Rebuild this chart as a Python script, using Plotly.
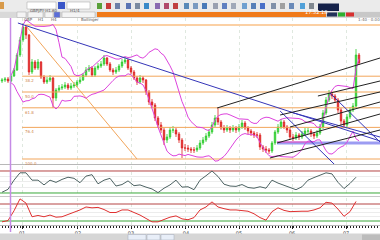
import plotly.graph_objects as go
import pandas as pd

# ---------------- data ----------------
closes = [85,86,84,89,95,110,125,138,130,93,
          103,97,103,88,83,85,87,67,75,77,
          78,80,77,79,80,83,85,90,95,97,
          90,97,99,101,107,101,95,93,95,99,
          103,105,97,93,87,83,87,85,73,63,
          60,47,40,35,25,28,35,35,31,25,
          17,17,16,15,15,17,22,25,29,33,
          40,47,43,37,35,37,35,37,35,38,
          42,37,34,32,30,30,18,16,15,14,
          22,33,38,43,38,35,28,27,30,28,
          31,34,34,31,29,32,38,52,65,71,
          69,65,55,44,40,48,55,59,110,102]
highs = [87,88,88,91,97,112,128,142,140,131,
         106,105,106,104,90,88,90,88,77,80,
         81,83,82,82,83,85,88,92,98,100,
         99,99,102,104,110,108,103,97,98,101,
         106,108,106,99,95,89,90,89,86,75,
         66,62,49,43,37,31,38,39,37,33,
         27,21,20,18,18,20,25,28,32,36,
         43,50,57,45,40,40,39,40,39,41,
         45,44,39,36,34,33,32,20,19,17,
         24,35,41,46,45,40,37,31,33,32,
         34,37,37,36,33,35,41,55,68,75,
         73,71,67,57,46,51,58,62,116,112]
lows = [82,83,82,83,88,94,108,123,126,90,
        91,95,95,86,81,81,83,57,64,73,
        75,76,75,75,77,78,81,84,88,93,
        88,88,95,97,99,99,93,90,91,93,
        97,101,95,91,85,80,81,82,70,60,
        57,44,37,32,20,22,26,32,28,22,
        7,14,13,12,12,13,15,20,23,27,
        31,38,40,35,32,33,32,33,32,33,
        36,35,31,29,27,27,15,13,12,11,
        12,20,31,36,36,32,25,24,25,25,
        26,29,31,28,26,27,30,36,50,63,
        66,62,52,40,37,38,46,53,57,100]
first_open = 84

# oscillators, sampled every second bar
osc1 = [22,30,55,75,75,55,55,42,55,49,
        57,63,60,48,66,70,45,55,60,39,
        43,53,40,42,36,31,21,33,42,55,
        36,37,29,55,67,80,65,44,39,38,
        43,35,33,37,33,55,47,41,35,29,
        37,55,62,69,75,72,49,32,46,63]
osc2 = [28,31,54,82,72,40,43,40,44,39,
        40,45,50,56,63,61,62,57,50,50,
        56,56,50,44,36,28,28,34,39,42,
        35,33,38,56,63,75,63,59,56,56,
        54,53,47,38,32,52,61,55,52,53,
        53,53,56,61,74,72,58,41,52,76]
osc1_levels = [80, 20]
osc2_levels = [70, 30]

day_ticks = [6.7, 25.3, 43, 61.3, 79, 96.7, 114.7]
day_labels = ["01", "02", "03", "04", "05", "06", "07"]

fib_high = 140
fib_low = 6
fib_start = 6.7
fib_ratios = [0, 38.2, 50, 61.8, 76.4, 100]

blue_lines = [((5.3, 142), (126, 24)),
              ((92.7, 54), (111.7, -2)),
              ((96, 53), (126, 28)),
              ((109.3, 72), (126, 23))]
black_lines = [((71.7, 57), (126, 107)),
               ((105.3, 69), (126, 84)),
               ((92.7, 50), (126, 73)),
               ((96, 38), (126, 63)),
               ((91.7, 22), (126, 51)),
               ((89.3, 7), (126, 35))]
orange_diag = ((8.3, 138), (45, 6))
support_line = ((91.7, 22), (126, 22))
pink_line = ((91.7, 23), (103.7, 23))

X_MAX = 126
X_MIN = -0.667

# ---------------- helpers ----------------
W, H = 380, 240
def px(x):
    return x / W
def py(y):
    return 1 - y / H

idx = list(range(len(closes)))
opens = [first_open] + closes[:-1]
osc_x = list(range(0, len(closes), 2))[:len(osc1)]

s = pd.Series(closes, dtype=float)
mid = s.rolling(12, min_periods=4).mean()
sd = s.rolling(12, min_periods=4).std(ddof=0)
upper = mid + 2 * sd
lower = mid - 2 * sd

fig = go.Figure()

# fib levels
for r in fib_ratios:
    lvl = fib_high - r / 100 * (fib_high - fib_low)
    if r == 0:
        fig.add_trace(go.Scatter(x=[fib_start + 1, X_MAX], y=[lvl, lvl], mode="lines",
                                 line=dict(color="#fbd0a4", width=2.2), xaxis="x", yaxis="y"))
    else:
        fig.add_trace(go.Scatter(x=[fib_start, X_MAX], y=[lvl, lvl], mode="lines",
                                 line=dict(color="#f2a55a", width=1), xaxis="x", yaxis="y"))
        fig.add_annotation(x=fib_start + 0.3, y=lvl, xref="x", yref="y", text=f"{r:.1f}",
                           showarrow=False, xanchor="left", yanchor="top",
                           font=dict(size=4, color="#d08850", family="DejaVu Sans"))

# orange diagonal
fig.add_trace(go.Scatter(x=[orange_diag[0][0], orange_diag[1][0]],
                         y=[orange_diag[0][1], orange_diag[1][1]], mode="lines",
                         line=dict(color="#f2a55a", width=1), xaxis="x", yaxis="y"))

# support / pink lines
fig.add_trace(go.Scatter(x=[support_line[0][0], support_line[1][0]],
                         y=[support_line[0][1], support_line[1][1]], mode="lines",
                         line=dict(color="#9c9cf2", width=3), xaxis="x", yaxis="y"))
fig.add_trace(go.Scatter(x=[pink_line[0][0], pink_line[1][0]],
                         y=[pink_line[0][1], pink_line[1][1]], mode="lines",
                         line=dict(color="#ee44bb", width=1), xaxis="x", yaxis="y"))

# bollinger
fig.add_trace(go.Scatter(x=idx, y=upper, mode="lines", line=dict(color="#dd44dd", width=1),
                         xaxis="x", yaxis="y"))
fig.add_trace(go.Scatter(x=idx, y=lower, mode="lines", line=dict(color="#dd44dd", width=1),
                         xaxis="x", yaxis="y"))

# candles
fig.add_trace(go.Candlestick(x=idx, open=opens, high=highs, low=lows, close=closes,
                             increasing=dict(line=dict(color="#2ecc2e", width=0.8), fillcolor="#3ad43a"),
                             decreasing=dict(line=dict(color="#dd2222", width=0.8), fillcolor="#e02a2a"),
                             whiskerwidth=0, xaxis="x", yaxis="y"))

# trend lines
for (a, b) in blue_lines:
    fig.add_trace(go.Scatter(x=[a[0], b[0]], y=[a[1], b[1]], mode="lines",
                             line=dict(color="#3535b8", width=1), xaxis="x", yaxis="y"))
for (a, b) in black_lines:
    fig.add_trace(go.Scatter(x=[a[0], b[0]], y=[a[1], b[1]], mode="lines",
                             line=dict(color="#222222", width=1), xaxis="x", yaxis="y"))

# oscillator 1
fig.add_trace(go.Scatter(x=[X_MIN, X_MAX], y=[osc1_levels[0]] * 2, mode="lines",
                         line=dict(color="#b54545", width=1), xaxis="x2", yaxis="y2"))
fig.add_trace(go.Scatter(x=[X_MIN, X_MAX], y=[osc1_levels[1]] * 2, mode="lines",
                         line=dict(color="#3aa83a", width=1), xaxis="x2", yaxis="y2"))
fig.add_trace(go.Scatter(x=osc_x, y=osc1, mode="lines",
                         line=dict(color="#4e6363", width=1), xaxis="x2", yaxis="y2"))

# oscillator 2
fig.add_trace(go.Scatter(x=[X_MIN, X_MAX], y=[osc2_levels[0]] * 2, mode="lines",
                         line=dict(color="#b54545", width=1), xaxis="x3", yaxis="y3"))
fig.add_trace(go.Scatter(x=[X_MIN, X_MAX], y=[osc2_levels[1]] * 2, mode="lines",
                         line=dict(color="#3aa83a", width=1), xaxis="x3", yaxis="y3"))
fig.add_trace(go.Scatter(x=osc_x, y=osc2, mode="lines",
                         line=dict(color="#e03030", width=1), xaxis="x3", yaxis="y3"))

# ---------------- decorations (toolbar, frames) ----------------
shapes = []
def rect(x0, y0, x1, y1, fill, line=None, lw=0):
    shapes.append(dict(type="rect", xref="paper", yref="paper",
                       x0=px(x0), x1=px(x1), y0=py(y1), y1=py(y0),
                       fillcolor=fill, line=dict(color=line or fill, width=lw), layer="above"))
def hline(y, x0, x1, color, w=1):
    shapes.append(dict(type="line", xref="paper", yref="paper", x0=px(x0), x1=px(x1),
                       y0=py(y), y1=py(y), line=dict(color=color, width=w), layer="above"))

rect(0, 0, 380, 11.5, "#ebebeb")
rect(0, 11.5, 380, 18, "#d9d9d9")
rect(97, 12, 326, 17, "#f07a1a")
rect(326, 12, 380, 17, "#c8c8c8")
rect(327, 12.5, 337, 16.5, "#22335a")
rect(338, 12.5, 345, 16.5, "#2fb02f")
rect(346, 12.5, 354, 16.5, "#d83030")
# tabs
for (a, b, c) in [(17, 26, "#f4f4f4"), (28, 43, "#f4f4f4"), (45, 53, "#f4f4f4"),
                  (54, 60, "#5a6ed8"), (62, 95, "#f4f4f4")]:
    rect(a, 12, b, 17.5, c, "#a8a8a8", 0.5)
# toolbar boxes
rect(0, 2, 4, 9, "#d89a4a")
rect(27, 2, 56, 9, "#ffffff", "#a0a0a0", 0.5)
rect(58, 2, 65, 9, "#3a56c8")
rect(67, 2, 90, 9, "#ffffff", "#a0a0a0", 0.5)
rect(318, 3.5, 339, 11, "#15224a")
icon_cols = ["#5aa03a", "#c83a3a", "#6b7fa8", "#5a74b4", "#7a8aa0", "#3a8ac8", "#8a6ab0",
             "#b04a6a", "#c04040", "#5a8ab8", "#7a9ac0", "#4a7ab8", "#9aa0b0", "#6080c0",
             "#a0a8b8", "#70a0d0", "#5880b8", "#4a70c8", "#8090a8", "#a0a0a0", "#6a8ab8",
             "#50a0d8", "#808890", "#6a7080"]
x0 = 97
for i, c in enumerate(icon_cols):
    rect(x0, 3, x0 + 5, 9, c)
    x0 += 9 if i % 3 != 2 else 11
    if x0 > 312:
        break
# panel separators
hline(164.5, 0, 380, "#b8b8b8")
hline(196.5, 0, 380, "#c8c8c8")
hline(225.5, 0, 380, "#b8b8b8")
# bottom bar
rect(0, 233.5, 380, 240, "#d6d6d6")
rect(128, 234.5, 146, 240, "#e8eef8", "#a0a8b8", 0.5)
rect(147, 234.5, 160, 240, "#e8eef8", "#a0a8b8", 0.5)
rect(161, 234.5, 174, 240, "#e8eef8", "#a0a8b8", 0.5)
rect(362, 234.5, 380, 240, "#bcbcbc")
# purple vertical marker
shapes.append(dict(type="line", xref="paper", yref="paper", x0=px(10.5), x1=px(10.5),
                   y0=py(232), y1=py(18), line=dict(color="#c58ae6", width=1.5), layer="above"))

annotations = [
    dict(x=px(28), y=py(5.5), xref="paper", yref="paper", text="GBPJPY-H1.60",
         showarrow=False, xanchor="left", font=dict(size=4, color="#555", family="DejaVu Sans")),
    dict(x=px(68), y=py(5.5), xref="paper", yref="paper", text="H1/4",
         showarrow=False, xanchor="left", font=dict(size=4, color="#555", family="DejaVu Sans")),
    dict(x=px(328.5), y=py(7.3), xref="paper", yref="paper", text="17:52:18",
         showarrow=False, font=dict(size=5, color="#ffffff", family="DejaVu Sans")),
    dict(x=px(356), y=py(14.5), xref="paper", yref="paper", text="1:40 · 0.00",
         showarrow=False, xanchor="left", font=dict(size=4, color="#666", family="DejaVu Sans")),
]
for a, b, t in [(18, 26, "GBP"), (29, 43, "H1"), (46, 53, "H4"), (63, 95, "Bollinger")]:
    annotations.append(dict(x=px((a + b) / 2), y=py(14.8), xref="paper", yref="paper", text=t,
                            showarrow=False, font=dict(size=4, color="#555", family="DejaVu Sans")))

fig.layout.annotations = list(fig.layout.annotations) + annotations

xcommon = dict(range=[X_MIN, X_MAX], tickvals=day_ticks, ticktext=day_labels,
               showgrid=True, gridcolor="#dfe8df", griddash="dot", gridwidth=1,
               zeroline=False, showline=False, fixedrange=True)

fig.update_layout(
    width=W, height=H, margin=dict(l=0, r=0, t=0, b=0),
    paper_bgcolor="#ffffff", plot_bgcolor="#ffffff",
    showlegend=False, hovermode=False,
    shapes=shapes,
    xaxis=dict(**xcommon, domain=[0, 1], anchor="y", showticklabels=False, ticks="",
               rangeslider=dict(visible=False)),
    xaxis2=dict(**xcommon, domain=[0, 1], anchor="y2", showticklabels=False, ticks="", matches="x"),
    xaxis3=dict(**xcommon, domain=[0, 1], anchor="y3", showticklabels=True, ticks="outside",
                ticklen=3, tickcolor="#222", tickwidth=1, matches="x",
                tickfont=dict(size=5, color="#444", family="DejaVu Sans"),
                minor=dict(dtick=1, tick0=0, ticks="outside", ticklen=2, tickcolor="#222",
                           tickwidth=1, showgrid=False)),
    yaxis=dict(domain=[py(164), py(18)], range=[1, 147], showticklabels=False,
               showgrid=False, zeroline=False, fixedrange=True),
    yaxis2=dict(domain=[py(196), py(166)], range=[11.8, 93.6], showticklabels=False,
                tickvals=[35, 50, 65], showgrid=True, gridcolor="#ececec", zeroline=False),
    yaxis3=dict(domain=[py(225), py(198)], range=[20.6, 84.1], showticklabels=False,
                tickvals=[40, 50, 60], showgrid=True, gridcolor="#ececec", zeroline=False),
)

fig.write_html("out.html")
